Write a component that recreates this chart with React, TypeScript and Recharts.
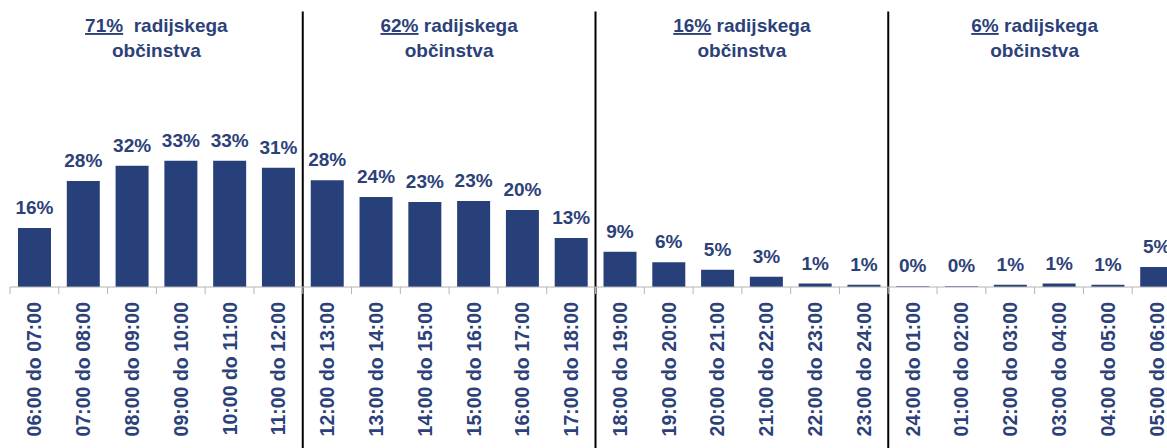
import { BarChart, Bar, XAxis, YAxis, LabelList, ReferenceLine, ReferenceArea } from "recharts";

const categories = [
  "06:00 do 07:00", "07:00 do 08:00", "08:00 do 09:00", "09:00 do 10:00", "10:00 do 11:00", "11:00 do 12:00",
  "12:00 do 13:00", "13:00 do 14:00", "14:00 do 15:00", "15:00 do 16:00", "16:00 do 17:00", "17:00 do 18:00",
  "18:00 do 19:00", "19:00 do 20:00", "20:00 do 21:00", "21:00 do 22:00", "22:00 do 23:00", "23:00 do 24:00",
  "24:00 do 01:00", "01:00 do 02:00", "02:00 do 03:00", "03:00 do 04:00", "04:00 do 05:00", "05:00 do 06:00",
];

const shares = [
  15.4, 27.7, 31.7, 33.0, 33.0, 31.2,
  27.9, 23.5, 22.2, 22.5, 20.1, 12.8,
  9.2, 6.5, 4.5, 2.7, 0.9, 0.6,
  0.2, 0.2, 0.6, 0.9, 0.6, 5.2,
];

const shareLabels = [
  "16%", "28%", "32%", "33%", "33%", "31%",
  "28%", "24%", "23%", "23%", "20%", "13%",
  "9%", "6%", "5%", "3%", "1%", "1%",
  "0%", "0%", "1%", "1%", "1%", "5%",
];

// blocks of hours with reach of the block
const groupReach = ["71%", "62%", "16%", "6%"];
const groupSize = [6, 6, 6, 6];

const NAVY = "#27407A";
const TEXT = "#2C4179";
const FONT = "'Liberation Sans', Arial, sans-serif";

const chartData = categories.map((c, i) => ({ name: c, value: shares[i], label: shareLabels[i] }));

const groupBounds = groupSize.map((n, i) => {
  const start = groupSize.slice(0, i).reduce((a, b) => a + b, 0);
  return { first: categories[start], last: categories[start + n - 1] };
});

const HourTick = (props: any) => {
  const { x, y, payload } = props;
  const half = payload.offset || 0;
  return (
    <g>
      <line x1={x - half} x2={x - half} y1={y} y2={y + 7} stroke="#b4b4b4" strokeWidth={1} />
      <text
        transform={`translate(${x + 7},${y + 15}) rotate(-90)`}
        textAnchor="end"
        fill={TEXT}
        fontSize={19.5}
        fontWeight="bold"
        fontFamily={FONT}
      >
        {payload.value}
      </text>
    </g>
  );
};

const GroupHeader = (reach: string, first: boolean) => (props: any) => {
  const { viewBox } = props;
  const cx = viewBox.x + viewBox.width / 2;
  return (
    <text
      x={cx}
      y={32}
      textAnchor="middle"
      fill={TEXT}
      fontSize={19}
      fontWeight="bold"
      fontFamily={FONT}
      style={{ whiteSpace: "pre" }}
    >
      <tspan style={{ textDecoration: "underline" }}>{reach}</tspan>
      <tspan>{first ? "  radijskega" : " radijskega"}</tspan>
      <tspan x={cx} y={57}>občinstva</tspan>
    </text>
  );
};

export default function App() {
  return (
    <div style={{ position: "absolute", left: 0, top: 0, width: 1167, height: 448, overflow: "hidden", background: "#fff" }}>
      <BarChart
        width={1200}
        height={448}
        data={chartData}
        margin={{ top: 134, right: 19, left: 10, bottom: 0 }}
        barSize={33}
      >
        <XAxis
          dataKey="name"
          interval={0}
          height={161}
          tickLine={false}
          tickSize={0}
          tickMargin={0}
          axisLine={{ stroke: "#b4b4b4" }}
          tick={<HourTick />}
        />
        <YAxis domain={[0, 40]} hide />
        {groupBounds.map((g, i) => (
          <ReferenceArea
            key={`area-${i}`}
            x1={g.first}
            x2={g.last}
            fill="none"
            fillOpacity={0}
            stroke="none"
            ifOverflow="visible"
            label={GroupHeader(groupReach[i], i === 0)}
          />
        ))}
        {groupBounds.slice(1).map((g, i) => (
          <ReferenceLine
            key={`sep-${i}`}
            position="start"
            segment={[{ x: g.first, y: 72 }, { x: g.first, y: -43 }]}
            stroke="#000"
            strokeWidth={2}
            ifOverflow="visible"
          />
        ))}
        <Bar dataKey="value" fill={NAVY} isAnimationActive={false}>
          <LabelList
            dataKey="label"
            position="top"
            offset={14}
            fill={TEXT}
            fontSize={19}
            fontWeight="bold"
            fontFamily={FONT}
          />
        </Bar>
      </BarChart>
    </div>
  );
}
